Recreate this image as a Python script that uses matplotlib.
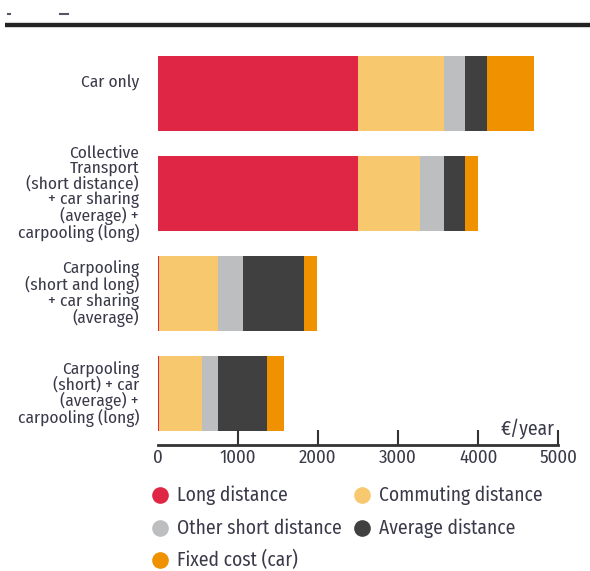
import matplotlib
matplotlib.use("Agg")
import matplotlib.pyplot as plt

categories = [
    "Car only",
    "Collective\nTransport\n(short distance)\n+ car sharing\n(average) +\ncarpooling (long)",
    "Carpooling\n(short and long)\n+ car sharing\n(average)",
    "Carpooling\n(short) + car\n(average) +\ncarpooling (long)",
]
series_names = ["Long distance", "Commuting distance", "Other short distance",
                "Average distance", "Fixed cost (car)"]
long_distance = [2505, 2505, 20, 20]
commuting = [1072, 764, 737, 530]
other_short = [256, 308, 304, 207]
average = [279, 256, 767, 607]
fixed_cost = [580, 162, 162, 211]
x_ticks = [0, 1000, 2000, 3000, 4000, 5000]
unit_label = "€/year"

colors = ["#DF2645", "#F8C86E", "#BDBEC0", "#404040", "#F09200"]
series = [long_distance, commuting, other_short, average, fixed_cost]

plt.rcParams['font.family'] = ['Fira Sans Condensed', 'DejaVu Sans']
txt_color = "#3a3a4a"

W, H = 590, 571
fig = plt.figure(figsize=(W / 100, H / 100), dpi=100)

left = 157.5 / W
right = 558.3 / W
top_px, bot_px = 43, 445
ax = fig.add_axes([left, 1 - bot_px / H, right - left, (bot_px - top_px) / H])

ypos = list(range(len(categories)))
base = [0] * len(categories)
for vals, c, name in zip(series, colors, series_names):
    ax.barh(ypos, vals, left=base, height=0.75, color=c, label=name, linewidth=0)
    base = [b + v for b, v in zip(base, vals)]

ax.set_xlim(0, 5000)
ax.set_ylim(3.51, -0.5)
ax.set_yticks([])
for s in ["top", "right", "left"]:
    ax.spines[s].set_visible(False)
ax.spines["bottom"].set_linewidth(2)
ax.spines["bottom"].set_color("#333333")
ax.set_xticks(x_ticks)
ax.set_xticklabels([str(t) for t in x_ticks], fontsize=13.5, color=txt_color)
ax.tick_params(axis="x", direction="in", length=11, width=1.5, color="#333333", pad=3)
ax.xaxis.get_major_ticks()[0].tick1line.set_visible(False)

ax.text(4950, 3.35, unit_label, ha="right", va="center", fontsize=14, color=txt_color)

label_offsets = [-0.1, 0, 0, 0]
for i, (cat, off) in enumerate(zip(categories, label_offsets)):
    ax.text(-230, i + off, cat, ha="right", va="center", fontsize=12.5,
            color=txt_color, linespacing=0.92)

ov = fig.add_axes([0, 0, 1, 1])
ov.set_xlim(0, W)
ov.set_ylim(H, 0)
ov.axis("off")
ov.plot([5, 590], [25, 25], color="#222222", lw=3, solid_capstyle="butt")
ov.plot([5, 590], [25, 25], color="#bbbbbb", lw=4.5, alpha=0.4, solid_capstyle="butt", zorder=0)
ov.plot([8, 10], [14, 14], color="#556", lw=1.5)
ov.plot([60, 68], [14, 14], color="#556", lw=1.5)

legend_pos = [(160, 495), (362, 495), (160, 528), (362, 528), (160, 560)]
for (x, y), name, c in zip(legend_pos, series_names, colors):
    ov.plot([x], [y], marker="o", markersize=12, color=c, markeredgewidth=0)
    ov.text(x + 17, y, name, ha="left", va="center", fontsize=14, color=txt_color)

fig.savefig("out.png", dpi=100)
